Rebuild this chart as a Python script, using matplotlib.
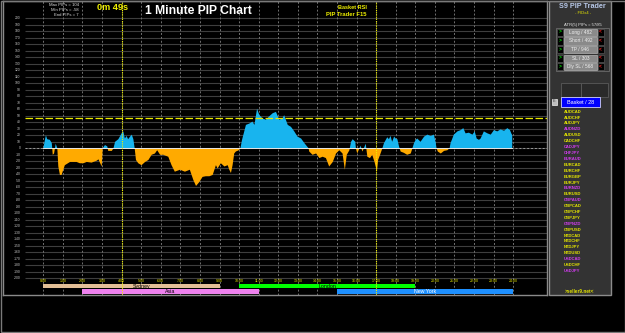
import matplotlib.pyplot as plt
from matplotlib.patches import Rectangle
import numpy as np

plt.rcParams['font.family'] = ['Liberation Sans', 'DejaVu Sans']

W, H = 625, 333

# basket PIPs (minutes after 0:00)
minutes = [0, 5, 8, 12, 20, 26, 29, 33, 38, 43, 46, 51, 56, 66, 82, 102, 112, 123, 133, 148,
           164, 169, 179, 182, 189, 196, 199, 210, 215, 220, 230, 240, 245, 250, 255, 260, 266,
           271, 276, 280, 284, 291, 301, 312, 322, 332, 342, 349, 358, 368, 383, 393, 403, 419,
           434, 449, 460, 468, 478, 488, 498, 509, 519, 529, 534, 544, 555, 565, 570, 575, 580,
           585, 590, 599, 604, 609, 621, 631, 641, 647, 655, 662, 672, 682, 692, 703, 713, 723,
           733, 738, 749, 759, 769, 779, 790, 800, 808, 813, 815, 825, 836, 846, 856, 866, 876,
           887, 897, 907, 917, 924, 930, 938, 943, 948, 956, 958, 962, 972, 978, 988, 993, 1001,
           1008, 1015, 1020, 1022, 1026, 1032, 1039, 1044, 1054, 1059, 1064, 1069, 1075, 1080,
           1085, 1090, 1095, 1105, 1115, 1126, 1131, 1136, 1141, 1146, 1156, 1167, 1177, 1187,
           1197, 1202, 1205, 1209, 1218, 1228, 1238, 1245, 1248, 1258, 1269, 1279, 1287, 1294,
           1304, 1315, 1322, 1328, 1335, 1340, 1350, 1361, 1371, 1381, 1391, 1401, 1412, 1422,
           1430, 1434, 1437]
pips = [0, 13, 20, 14, 13, 8, -10, -8, 7, 0, -28, -41, -41, -26, -21, -21, -23, -23, -21, -22,
        -19, -17, -28, 0, 5, 3, -4, -4, 0, 10, 14, 23, 26, 15, 19, 14, 18,
        21, 14, 0, -18, -23, -26, -21, -18, -10, -8, -3, -10, -10, -13, -26, -36, -33,
        -36, -33, -49, -58, -52, -44, -43, -43, -41, -26, -31, -23, -28, -26, -33, -38, -26,
        -8, -5, -3, 0, 13, 36, 38, 41, 36, 61, 51, 46, 44, 49, 54, 56, 44,
        46, 51, 36, 33, 26, 18, 15, 8, 3, 0, -5, -10, -8, -15, -13, -15, -28,
        -21, -8, -3, -8, -33, -10, -3, 10, 14, 10, 0, -8, 4, -5, 7, -13, -15,
        -10, -21, -31, -38, -18, -10, 0, 8, 17, 14, 19, 10, 18, 15,
        14, 3, -5, -7, -10, -8, 0, 8, 13, 15, 10, 18, 21, 19,
        21, 10, 0, -5, -8, -4, -3, 0, 8, 21, 26, 28, 31, 23,
        24, 21, 26, 15, 13, 15, 26, 23, 21, 28, 26, 29, 27, 31,
        28, 23, 20]

hours = list(range(25))
hour_labels = [f"{h}:00" for h in hours]
grid_levels = list(range(-200, 201, 10))
trigger_level = 46
marker_hours = [4, 17]

sessions = ["Sydney", "Asia", "London", "New York"]
sess_start = [0, 2, 10, 15]
sess_len = [9, 9, 9, 9]
sess_row = [0, 1, 0, 1]
sess_label_at = [5.0, 6.5, 14.5, 19.5]
sess_color = ["#e3bf96", "#ee82ee", "#00ff00", "#1e90ff"]
sess_text = ["black", "black", "black", "white"]

stats = ["Max PIPs = 104", "Min PIPs = -58", "End PIPs = 7"]
buttons = ["Long / 482", "Short / 492", "TP / 946", "SL / 303", "Dly SL / 568"]
pairs = ["AUDCAD", "AUDCHF", "AUDJPY", "AUDNZD", "AUDUSD", "CADCHF", "CADJPY", "CHFJPY",
         "EURAUD", "EURCAD", "EURCHF", "EURGBP", "EURJPY", "EURNZD", "EURUSD", "GBPAUD",
         "GBPCAD", "GBPCHF", "GBPJPY", "GBPNZD", "GBPUSD", "NZDCAD", "NZDCHF", "NZDJPY",
         "NZDUSD", "USDCAD", "USDCHF", "USDJPY"]
pairs_hot = ["AUDNZD", "CADJPY", "CHFJPY", "EURAUD", "EURNZD", "GBPAUD", "GBPNZD",
             "USDCAD", "USDJPY"]

t = np.array(minutes) / 60.0
v = np.array(pips, dtype=float)

fig = plt.figure(figsize=(W / 100, H / 100), dpi=100, facecolor='black')

# main chart, pixel box 2.7..547 x 1..295
ax = fig.add_axes([2.7 / W, 1 - 295 / H, 544.3 / W, 294 / H])
ax.set_facecolor('black')
ax.set_xlim(-2.0735, 25.725)
ax.set_ylim(-225.7, 226.6)
ax.set_xticks([])
ax.set_yticks([])
for s in ax.spines.values():
    s.set_color('#8a8a8a')
    s.set_linewidth(1.0)

gx0 = -0.935
ax.hlines(grid_levels, gx0, 25.725, colors='#3e3e3e', lw=0.8, zorder=1)
ax.vlines(hours, -225.7, 226.6, colors='#707070', lw=0.7, linestyles=(0, (2, 2)), zorder=1)
for lv in grid_levels:
    ax.text(-1.17, lv, str(lv), color='#c8c8c8', fontsize=2.4, ha='right', va='center')

ax.fill_between(t, v, 0, where=v >= 0, interpolate=True, color='#18b4ee', lw=0, zorder=3)
ax.fill_between(t, v, 0, where=v <= 0, interpolate=True, color='#ffaa00', lw=0, zorder=3)

ax.hlines(0, gx0, 25.725, colors='#9a9a9a', lw=0.7, linestyles=(0, (2, 2)), zorder=2)
ax.plot([t[0], t[-1]], [0, 0], color='#e6e6e6', lw=0.7, zorder=4)
ax.hlines(trigger_level, gx0, 25.725, colors='#e8e800', lw=0.9, linestyles=(0, (6, 2)), zorder=4)
ax.vlines(marker_hours, -225.7, 226.6, colors='#f0f000', lw=0.8, linestyles=(0, (1, 1)), zorder=5)

for h, lab in zip(hours, hour_labels):
    ax.text(h, -203.7, lab, color='#e8e800', fontsize=2.6, ha='center', va='center', zorder=6)

for name, st, ln, row, lx, c, tc in zip(sessions, sess_start, sess_len, sess_row,
                                        sess_label_at, sess_color, sess_text):
    yc = -211.9 if row == 0 else -220.1
    ax.barh(yc, ln, left=st, height=7.1, color=c, lw=0, zorder=4)
    ax.text(lx, yc, name, color=tc, fontsize=3.8, ha='center', va='center', zorder=6)

# overlay in pixel coordinates for the header texts and the side panel
ov = fig.add_axes([0, 0, 1, 1])
ov.set_xlim(0, W)
ov.set_ylim(H, 0)
ov.axis('off')
ov.patch.set_alpha(0)
ov.set_zorder(5)

for i, s in enumerate(stats):
    ov.text(79, 5 + i * 5.2, s, color='#e0e0e0', fontsize=3.1, ha='right', va='center')
ov.text(97, 7.5, "0m 49s", color='#f0f000', fontsize=6.6, fontweight='bold', va='center')
ov.text(145, 11, "1 Minute PIP Chart", color='white', fontsize=8.7, fontweight='bold', va='center')
ov.text(366.7, 7.7, "Basket RSI", color='#f0f000', fontsize=4.0, fontweight='bold',
        ha='right', va='center')
ov.text(366.7, 14.3, "PIP Trader F15", color='#f0f000', fontsize=4.2, fontweight='bold',
        ha='right', va='center')

# side panel
ov.add_patch(Rectangle((549, 1), 62, 294, facecolor='#333333', edgecolor='#8c8c8c', lw=1))
ov.text(582.7, 6, "S9 PIP Trader", color='#b8c8e8', fontsize=5.2, fontweight='bold',
        ha='center', va='center')
ov.text(582.7, 13.3, "- FIDx4 -", color='#e8e800', fontsize=3.0, ha='center', va='center')
ov.text(582.7, 24.7, "ATR(5) PIPs = 57/85", color='#e6e6e6', fontsize=3.0, ha='center',
        va='center')
ov.add_patch(Rectangle((556, 27.7), 53, 43.3, facecolor='none', edgecolor='#6a6a6a', lw=0.6))
for i, b in enumerate(buttons):
    yc = 32.3 + i * 8.6
    ov.add_patch(Rectangle((556.7, yc - 3.6), 6, 7.2, facecolor='black', edgecolor='#555555', lw=0.5))
    ov.add_patch(Rectangle((597.7, yc - 3.6), 6, 7.2, facecolor='black', edgecolor='#555555', lw=0.5))
    ov.add_patch(Rectangle((564, yc - 3.6), 32.7, 7.2, facecolor='#8a8a8a', edgecolor='#b4b4b4', lw=0.5))
    ov.text(559.7, yc, ">", color='#00e000', fontsize=3.4, fontweight='bold', ha='center', va='center')
    ov.text(600.5, yc, "<", color='#ff2020', fontsize=3.4, fontweight='bold', ha='center', va='center')
    ov.text(580.3, yc, b, color='#f2f2f2', fontsize=3.4, ha='center', va='center')

ov.add_patch(Rectangle((560.7, 83), 20, 14, facecolor='#2a2a2a', edgecolor='#5a5a5a', lw=0.6))
ov.add_patch(Rectangle((580.7, 83), 27, 14, facecolor='#2a2a2a', edgecolor='#5a5a5a', lw=0.6))
ov.add_patch(Rectangle((551.5, 98.5), 5.5, 6, facecolor='#bdbdbd', edgecolor='#eeeeee', lw=0.5))
ov.text(554.2, 101.5, "E", color='#333333', fontsize=2.8, ha='center', va='center')
ov.add_patch(Rectangle((560.7, 97.3), 39.3, 10, facecolor='#0000ff', edgecolor='#d0d0ff', lw=0.6))
ov.text(580.3, 102.3, "Basket / 28", color='white', fontsize=4.0, ha='center', va='center')

for i, p in enumerate(pairs):
    col = '#d23cf0' if p in pairs_hot else '#e6e600'
    ov.text(572.3, 111.7 + i * 5.9, p, color=col, fontsize=3.0, fontweight='bold',
            ha='center', va='center')
ov.text(579.3, 291.7, ">seller9.net<", color='#e6e600', fontsize=3.4, fontweight='bold',
        ha='center', va='center')

# outer frame
ov.add_patch(Rectangle((0.5, 0.5), W - 1, H - 1.2, facecolor='none', edgecolor='#7a7a7a', lw=1))

fig.savefig('out.png', dpi=100, facecolor='black')
